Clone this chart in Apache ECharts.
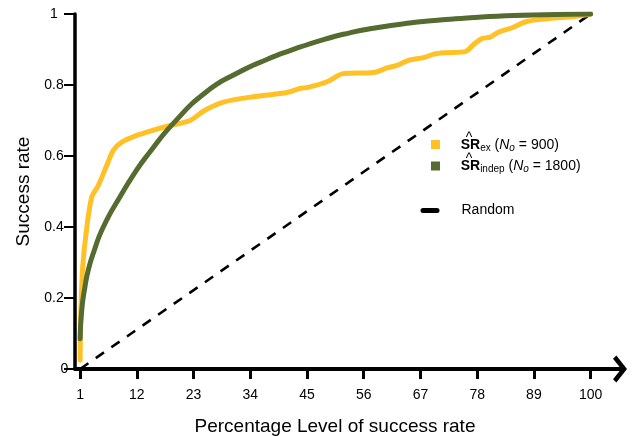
<!DOCTYPE html>
<html>
<head>
<meta charset="utf-8">
<script src="https://cdn.jsdelivr.net/npm/echarts@6/dist/echarts.min.js"></script>
<style>
html,body{margin:0;padding:0;background:#fff;}
#c{width:633px;height:436px;}
</style>
</head>
<body>
<div id="c"></div>
<script>
// ---- data ----
var xTicks = [1, 12, 23, 34, 45, 56, 67, 78, 89, 100];
var yTicks = [0, 0.2, 0.4, 0.6, 0.8, 1];

var exX = [1, 1.1, 1.49, 2.13, 3.24, 4.52, 6.15, 7.43, 9.06, 11.97, 14.55, 18.43, 22.3, 25.2, 28.8, 34.6, 39.8, 41.7, 43.6, 45.4, 49.0, 52.0, 57.9, 60.5, 62.6, 64.8, 67.6, 69.6, 72.1, 75.7, 77.3, 78.8, 80.5, 82.0, 84.9, 87.6, 92.0, 96.7, 100];
var exY = [0.025, 0.145, 0.286, 0.38, 0.484, 0.517, 0.573, 0.616, 0.639, 0.658, 0.67, 0.686, 0.70, 0.729, 0.752, 0.767, 0.776, 0.781, 0.79, 0.794, 0.81, 0.832, 0.835, 0.848, 0.856, 0.87, 0.877, 0.887, 0.891, 0.894, 0.914, 0.93, 0.935, 0.948, 0.962, 0.979, 0.987, 0.993, 1.0];

var indepX = [1, 1.3, 1.94, 2.58, 3.55, 5.49, 8.73, 11.97, 14.3, 19.07, 25.5, 31.4, 37.2, 41.7, 48.2, 53.3, 57.9, 64, 70.8, 76, 83.7, 91, 100];
var indepY = [0.085, 0.165, 0.232, 0.279, 0.326, 0.40, 0.485, 0.561, 0.607, 0.692, 0.781, 0.833, 0.872, 0.897, 0.928, 0.947, 0.96, 0.973, 0.983, 0.989, 0.995, 0.998, 1.0];

var randomX = [1, 100];
var randomY = [0, 1];

function pairs(xs, ys) { return xs.map(function (x, i) { return [x, ys[i]]; }); }

var FONT = '"Liberation Sans", Arial, sans-serif';
var chart = echarts.init(document.getElementById('c'), null, {renderer: 'canvas'});

var legendRich = {
  b: {fontFamily: FONT, fontWeight: 'bold', fontSize: 14, lineHeight: 16, color: '#000'},
  s: {fontFamily: FONT, fontSize: 10, lineHeight: 8, verticalAlign: 'bottom', color: '#000'},
  n: {fontFamily: FONT, fontSize: 14, lineHeight: 16, color: '#000'},
  i: {fontFamily: FONT, fontStyle: 'italic', fontSize: 14, lineHeight: 16, color: '#000'},
  is: {fontFamily: FONT, fontStyle: 'italic', fontSize: 10, lineHeight: 8, verticalAlign: 'bottom', color: '#000'}
};

chart.setOption({
  animation: false,
  backgroundColor: '#fff',
  grid: {left: 75, right: 13, top: 14, bottom: 67, containLabel: false, outerBoundsMode: 'none'},
  xAxis: {
    type: 'value', min: 0, max: 105.7,
    name: 'Percentage Level of success rate',
    nameLocation: 'middle', nameGap: 48,
    nameTextStyle: {fontFamily: FONT, fontSize: 19, color: '#000', padding: [0, 25, 0, 0]},
    axisLine: {show: true, lineStyle: {color: '#000', width: 4},
      symbol: ['none', 'path://M14,0 L28,11 L24.5,14.5 L14,6 L3.5,14.5 L0,11 Z'],
      symbolSize: [28, 14], symbolOffset: [0, 0]},
    axisTick: {show: true, customValues: xTicks, length: 10, lineStyle: {color: '#000', width: 3}},
    axisLabel: {show: true, customValues: xTicks, fontFamily: FONT, fontSize: 14, color: '#000', margin: 19},
    splitLine: {show: false}
  },
  yAxis: {
    type: 'value', min: 0, max: 1, interval: 0.2,
    name: 'Success rate', nameLocation: 'middle', nameGap: 42,
    nameTextStyle: {fontFamily: FONT, fontSize: 19, color: '#000'},
    axisLine: {show: true, lineStyle: {color: '#000', width: 3.5}},
    axisTick: {show: true, length: 11, lineStyle: {color: '#000', width: 2}},
    axisLabel: {
      show: true, fontFamily: FONT, fontSize: 14, color: '#000', margin: 21, align: 'center',
      formatter: function (v) { return v === 0 ? '{z|0}' : String(Math.round(v * 10) / 10); },
      rich: {z: {fontFamily: FONT, fontSize: 14, color: '#000', padding: [0, 0, 0, 21]}}
    },
    splitLine: {show: false}
  },
  series: [
    {
      name: 'Random', type: 'line', data: pairs(randomX, randomY), showSymbol: false, z: 2,
      lineStyle: {color: '#000', width: 2.6, type: [10, 9]}
    },
    {
      name: 'ex', type: 'line', data: pairs(exX, exY), showSymbol: false, smooth: 0.3, z: 3,
      lineStyle: {color: '#FFC125', width: 5, cap: 'round', join: 'round'}
    },
    {
      name: 'indep', type: 'line', data: pairs(indepX, indepY), showSymbol: false, smooth: 0.55, z: 4,
      lineStyle: {color: '#556B2F', width: 5, cap: 'round', join: 'round'}
    }
  ],
  graphic: [
    {type: 'rect', shape: {x: 431, y: 140, width: 9, height: 9}, style: {fill: '#FFC125'}},
    {type: 'rect', shape: {x: 431, y: 161.5, width: 9, height: 9}, style: {fill: '#556B2F'}},
    {type: 'line', shape: {x1: 423, y1: 210.5, x2: 437, y2: 210.5}, style: {stroke: '#000', lineWidth: 5, lineCap: 'round'}},
    {type: 'text', x: 460.7, y: 145.3, style: {
      text: '{b|SR}{s|ex}{n| (}{i|N}{is|o}{n| = 900)}', rich: legendRich, align: 'left', verticalAlign: 'middle'}},
    {type: 'text', x: 469, y: 138.3, style: {text: '^', fontFamily: FONT, fontSize: 14, fill: '#000', align: 'center', verticalAlign: 'middle'}},
    {type: 'text', x: 460.7, y: 166.5, style: {
      text: '{b|SR}{s|indep}{n| (}{i|N}{is|o}{n| = 1800)}', rich: legendRich, align: 'left', verticalAlign: 'middle'}},
    {type: 'text', x: 469, y: 159.5, style: {text: '^', fontFamily: FONT, fontSize: 14, fill: '#000', align: 'center', verticalAlign: 'middle'}},
    {type: 'text', x: 461.5, y: 210.5, style: {text: 'Random', fontFamily: FONT, fontSize: 14, fill: '#000', align: 'left', verticalAlign: 'middle'}}
  ]
});
</script>
</body>
</html>
